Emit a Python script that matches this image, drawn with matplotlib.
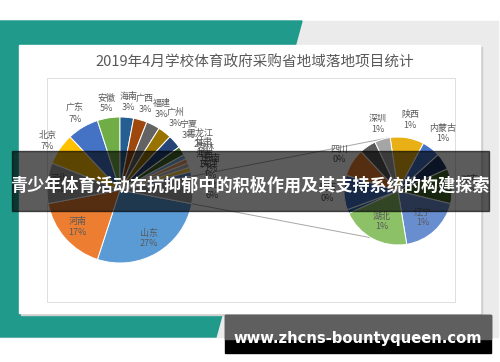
import matplotlib
matplotlib.use("Agg")
import matplotlib.pyplot as plt
from matplotlib.patches import Polygon, Rectangle
import numpy as np

plt.rcParams["font.family"] = ["Noto Sans CJK SC", "DejaVu Sans"]

H = 362  # picture height in px, y measured from the top
def Y(y):
    return H - y

TITLE = "2019年4月学校体育政府采购省地域落地项目统计"
BANNER = "青少年体育活动在抗抑郁中的积极作用及其支持系统的构建探索"
SITE = "www.zhcns-bountyqueen.com"

# secondary pie (the "其他" share), clockwise from 陕西
sub_names = ["陕西", "内蒙古", "", "湖南", "辽宁", "湖北", "", "重庆", "四川", "", "深圳"]
sub_vals = [0.61, 0.33, 0.30, 0.63, 1.12, 1.25, 0.07, 0.62, 0.50, 0.30, 0.28]
sub_pct = ["1%", "1%", "", "1%", "1%", "1%", "", "0%", "0%", "", "1%"]
sub_colors = ["#E8B015", "#4472C4", "#203864", "#43682B", "#698ED0", "#8CC168",
              "#2E75B6", "#4472C4", "#ED7D31", "#595959", "#A5A5A5"]

# main pie, Excel order: clockwise, ending with the split wedge
main_names = ["山东", "河南", "河北", "北京", "广东", "安徽", "海南", "广西", "福建",
              "广州", "宁夏", "黑龙江", "甘肃", "吉林", "江西", "云南", "天津", "其他"]
main_vals = [27, 17, 9, 7, 7, 5, 3, 3, 3, 3, 3, 2, 1, 1, 1, 1, 1] + [sum(sub_vals)]
main_colors = ["#5B9BD5", "#ED7D31", "#A5A5A5", "#FFC000", "#4472C4", "#70AD47",
               "#255E91", "#9E480E", "#636363", "#997300", "#264478", "#43682B",
               "#7CAFDD", "#F1975A", "#B7B7B7", "#FFCD33", "#698ED0", "#A5A5A5"]

# label distance as a fraction of the radius
main_lab_r = [0.77, 0.77, 0.85, 1.2, 1.21, 1.2, 1.21, 1.23, 1.25, 1.25, 1.25, 1.3,
              1.28, 1.28, 1.23, 1.3, 1.26, 1.26]
sub_lab_r = [1.33, 1.35, 1.3, 1.34, 0.67, 0.64, 1.3, 1.31, 1.28, 1.3, 1.29]

fig = plt.figure(figsize=(5, 3.62), dpi=100)
ax = fig.add_axes([0, 0, 1, 1])
ax.axis("off")

# ---- page background ----
ax.add_patch(Rectangle((0, Y(337)), 498, 316, color="#ebebeb", zorder=0))
ax.add_patch(Polygon([(0, Y(21)), (302, Y(21)), (216, Y(337)), (0, Y(337))],
                     closed=True, color="#1f9a8b", zorder=0.5))
ax.add_patch(Rectangle((21, Y(315)), 461, 268, color="#cfcfcf", zorder=0.8))
ax.add_patch(Rectangle((19, Y(313)), 461, 268, color="white", zorder=1))
ax.add_patch(Rectangle((47, Y(302)), 408, 224, fill=False, ec="#d9d9d9", lw=0.6, zorder=1.1))
ax.text(255, Y(63), TITLE, ha="center", va="center", fontsize=10.5, color="#595959", zorder=2)

# ---- pies ----
MC, MR = (120, Y(190)), 73
SC, SR = (398, Y(191)), 54
tot = sum(main_vals)
wm, _ = ax.pie(main_vals, colors=main_colors, startangle=-main_vals[-1] / tot * 180,
               counterclock=False, center=MC, radius=MR,
               wedgeprops=dict(edgecolor="white", linewidth=0.7))
ws, _ = ax.pie(sub_vals, colors=sub_colors, startangle=98.4, counterclock=False,
               center=SC, radius=SR, wedgeprops=dict(edgecolor="white", linewidth=0.7))
for w in list(wm) + list(ws):
    w.set_zorder(2)

def put_labels(wedges, names, pcts, fracs, c, r):
    for w, n, p, f in zip(wedges, names, pcts, fracs):
        if not n:
            continue
        th = np.deg2rad((w.theta1 + w.theta2) / 2)
        ax.text(c[0] + r * f * np.cos(th), c[1] + r * f * np.sin(th), f"{n}\n{p}",
                ha="center", va="center", fontsize=6.5, color="#595959",
                linespacing=1.25, zorder=3)

main_pct = [f"{round(v / tot * 100)}%" for v in main_vals]
put_labels(wm, main_names, main_pct, main_lab_r, MC, MR)
put_labels(ws, sub_names, sub_pct, sub_lab_r, SC, SR)

# series lines from the split wedge to the secondary pie
other = wm[-1]
for a_main, a_sub in ((other.theta2, 102), (other.theta1, -120)):
    am, asb = np.deg2rad(a_main), np.deg2rad(a_sub)
    ax.plot([MC[0] + MR * np.cos(am), SC[0] + SR * np.cos(asb)],
            [MC[1] + MR * np.sin(am), SC[1] + SR * np.sin(asb)],
            color="#a6a6a6", lw=0.7, zorder=1.5)

# ---- overlay banner and watermark ----
ax.add_patch(Rectangle((12, Y(211)), 477, 60, color="black", alpha=0.64, zorder=5))
ax.text(250, Y(186), BANNER, ha="center", va="center", fontsize=12.3,
        fontweight="bold", color="white", zorder=6)
ax.add_patch(Rectangle((225, Y(353)), 266, 38, color="black", zorder=5))
ax.add_patch(Rectangle((225, Y(339)), 266, 24, color="#5f5f5f", zorder=5.1))
ax.text(358, Y(338), SITE, ha="center", va="center", fontsize=10.6,
        fontweight="bold", color="white", family="DejaVu Sans", zorder=6)

ax.set_xlim(0, 500)
ax.set_ylim(0, H)
ax.set_aspect("auto")
fig.savefig("out.png", dpi=100, facecolor="white")
